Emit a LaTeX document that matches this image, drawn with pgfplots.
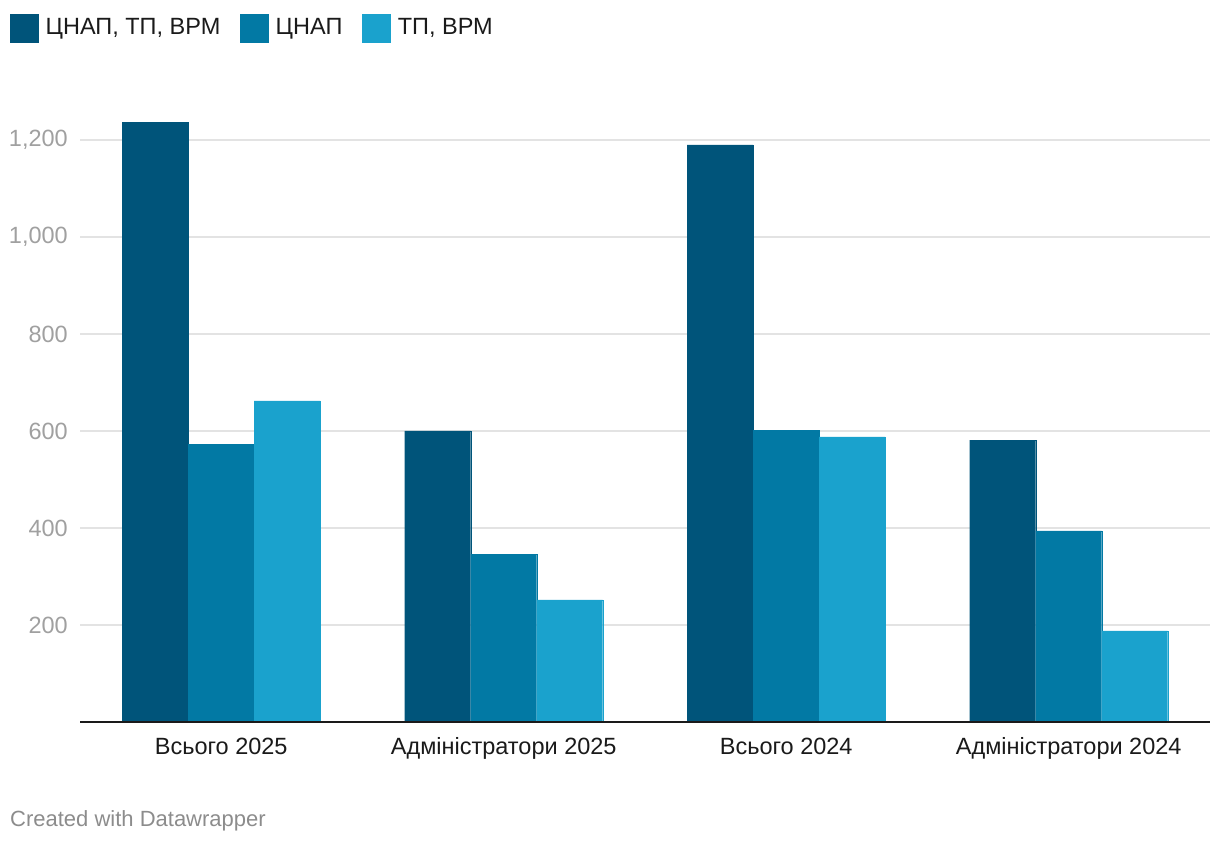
\documentclass[border=0pt]{standalone}
\usepackage{fontspec}
\setmainfont{Liberation Sans}
\usepackage{pgfplots}
\pgfplotsset{compat=1.18}
\definecolor{c1}{HTML}{00547A}
\definecolor{c2}{HTML}{0279A4}
\definecolor{c3}{HTML}{1AA2CD}
\definecolor{gridc}{HTML}{E3E3E3}
\definecolor{ylab}{HTML}{A0A0A0}
\definecolor{dark}{HTML}{1A1A1A}
\definecolor{foot}{HTML}{8C8C8C}

\begin{document}
\begin{tikzpicture}[x=1pt,y=1pt]
\path[use as bounding box] (0,0) rectangle (1220,844);
\begin{axis}[
  at={(80pt,122pt)}, anchor=south west,
  scale only axis, width=1130pt, height=630.5pt,
  xmin=-0.5, xmax=3.5, ymin=0, ymax=1300,
  ybar=0pt, bar width=66pt,
  clip=false,
  axis line style={draw=none},
  major tick length=0pt,
  xtick={0,1,2,3},
  xticklabels={Всього 2025, Адміністратори 2025, Всього 2024, Адміністратори 2024},
  ytick={200,400,...,1200},
  ymajorgrids,
  grid style={gridc, line width=1.5pt},
  /pgf/number format/assume math mode=true,
  /pgf/number format/1000 sep={,},
  yticklabel style={font=\fontsize{23.5}{28}\selectfont, text=ylab, anchor=east, inner sep=0pt, xshift=-12pt},
  xticklabel style={font=\fontsize{23.5}{28}\selectfont, text=dark, anchor=base, inner sep=0pt, yshift=-32pt},
  legend columns=3,
  legend style={at={(-0.0619,1.1229)}, anchor=north west, draw=none, fill=none, inner sep=0pt,
    font=\fontsize{23.5}{28}\selectfont, text=dark,
    nodes={inner sep=0pt, anchor=base west},
    column sep=7pt,
    /tikz/every even column/.append style={column sep=20pt}},
  legend image code/.code={\fill[#1] (0pt,-8pt) rectangle (28pt,20pt);},
]
\addplot[fill=c1, draw=c1, line width=0.4pt] coordinates {(0,1237) (1,600) (2,1190) (3,581)};
\addlegendentry{ЦНАП, ТП, ВРМ}
\addplot[fill=c2, draw=c2, line width=0.4pt] coordinates {(0,573) (1,346) (2,602) (3,394)};
\addlegendentry{ЦНАП}
\addplot[fill=c3, draw=c3, line width=0.4pt] coordinates {(0,662) (1,252) (2,588) (3,188)};
\addlegendentry{ТП, ВРМ}
\draw[line width=2pt, dark] (rel axis cs:0,0) -- (rel axis cs:1,0);
\end{axis}
\node[anchor=base west, inner sep=0pt, font=\fontsize{22}{26}\selectfont, text=foot] at (10,18) {Created with Datawrapper};
\end{tikzpicture}
\end{document}
